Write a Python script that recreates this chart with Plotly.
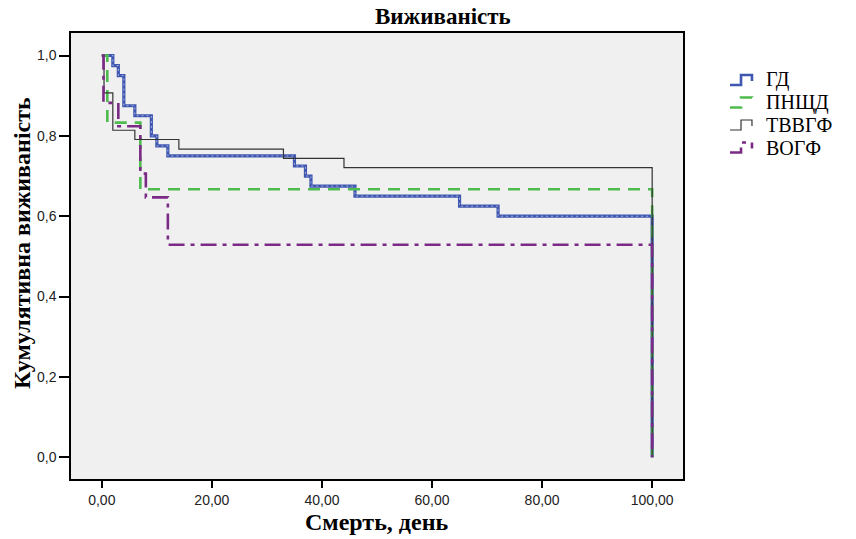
import plotly.graph_objects as go

# ---- data ----
gd_t = [0, 2, 3, 4, 6, 9, 10, 12, 35, 37, 38, 46, 65, 72, 100, 100]
gd_s = [1.0, 0.975, 0.95, 0.875, 0.85, 0.80, 0.775, 0.75, 0.725, 0.70, 0.675, 0.65, 0.625, 0.60, 0.60, 0.0]

pn_t = [0, 1, 7, 100, 100]
pn_s = [1.0, 0.833, 0.667, 0.667, 0.0]

tv_t = [0, 0.4, 2, 6, 14, 33, 44, 100, 100]
tv_s = [1.0, 0.907, 0.814, 0.791, 0.767, 0.744, 0.721, 0.721, 0.0]

vo_t = [0, 0.3, 3, 7, 8, 12, 100, 100]
vo_s = [1.0, 0.882, 0.824, 0.706, 0.647, 0.529, 0.529, 0.0]

series_names = ["ГД", "ПНЩД", "ТВВГФ", "ВОГФ"]
x_ticks = [0, 20, 40, 60, 80, 100]
y_ticks = [0.0, 0.2, 0.4, 0.6, 0.8, 1.0]

serif = "Liberation Serif, Times New Roman, serif"
sans = "Liberation Sans, Arial, sans-serif"

styles = [
    dict(color="#3F57B0", width=3.2),
    dict(color="#4DBB4D", width=2.6, dash="12px,8px"),
    dict(color="#333333", width=1.2),
    dict(color="#7B2B86", width=2.6, dash="16px,6px,4px,6px"),
]

fig = go.Figure()
for name, t, s, st in zip(series_names, [gd_t, pn_t, tv_t, vo_t], [gd_s, pn_s, tv_s, vo_s], styles):
    fig.add_trace(go.Scatter(x=t, y=s, mode="lines", name=name, line_shape="hv",
                             line=st, showlegend=False))
    if name == "ГД":
        fig.add_trace(go.Scatter(x=t, y=s, mode="lines", name=name, line_shape="hv",
                                 showlegend=False, hoverinfo="skip",
                                 line=dict(color="rgba(220,225,245,0.8)", width=0.8, dash="2px,3px")))

# plot area in page pixels
PL, PR, PT, PB = 71, 683, 33, 479
FW, FH = 856, 539
W, H = PR - PL, PB - PT


def px(x):
    return (x - PL) / W


def py(y):
    return (PB - y) / H


# SPSS-style legend (step-shaped samples + serif labels)
shapes = []
annotations = []
row_y = [80, 102.5, 125, 147.5]
for name, st, yc in zip(series_names, styles, row_y):
    path = "M {:.4f},{:.4f} L {:.4f},{:.4f} L {:.4f},{:.4f} L {:.4f},{:.4f} L {:.4f},{:.4f}".format(
        px(730), py(yc + 5), px(741), py(yc + 5), px(741), py(yc - 5),
        px(752), py(yc - 5), px(752), py(yc + 1))
    shapes.append(dict(type="path", xref="paper", yref="paper", path=path,
                       line=dict(color=st["color"], width=min(st["width"], 2.6),
                                 dash=st.get("dash", "solid"))))
    annotations.append(dict(text=name, xref="paper", yref="paper", x=px(764), y=py(yc),
                            xanchor="left", yanchor="middle", showarrow=False,
                            font=dict(family=serif, size=20, color="black")))

annotations += [
    dict(text="<b>Виживаність</b>", xref="paper", yref="paper", x=px(443), y=py(16),
         xanchor="center", yanchor="middle", showarrow=False,
         font=dict(family=serif, size=23, color="black")),
    dict(text="<b>Кумулятивна виживаність</b>", xref="paper", yref="paper", x=px(22), y=py(243),
         xanchor="center", yanchor="middle", showarrow=False, textangle=-90,
         font=dict(family=serif, size=24, color="black")),
    dict(text="<b>Смерть, день</b>", xref="paper", yref="paper", x=px(376), y=py(522),
         xanchor="center", yanchor="middle", showarrow=False,
         font=dict(family=serif, size=24, color="black")),
]

fig.update_layout(
    width=FW, height=FH,
    margin=dict(l=PL, r=FW - PR, t=PT, b=FH - PB, autoexpand=False),
    paper_bgcolor="white",
    plot_bgcolor="#F0F0F0",
    separators=", ",
    showlegend=False,
    shapes=shapes,
    annotations=annotations,
)

fig.update_xaxes(range=[-5.6, 105.6], tickvals=x_ticks, tickformat=".2f",
                 ticks="outside", ticklen=7, tickcolor="black", tickwidth=1.5,
                 showgrid=False, zeroline=False,
                 showline=True, linecolor="black", linewidth=1.5, mirror=True,
                 tickfont=dict(family=sans, size=14, color="#222"))
fig.update_yaxes(range=[-0.054, 1.056], tickvals=y_ticks, tickformat=".1f",
                 ticks="outside", ticklen=10, tickcolor="black", tickwidth=1.5,
                 showgrid=False, zeroline=False,
                 showline=True, linecolor="black", linewidth=1.5, mirror=True,
                 tickfont=dict(family=sans, size=14, color="#222"))

fig.write_html("out.html", config={"displayModeBar": False},
               post_script="document.body.style.margin='0';document.body.style.overflow='hidden';")
